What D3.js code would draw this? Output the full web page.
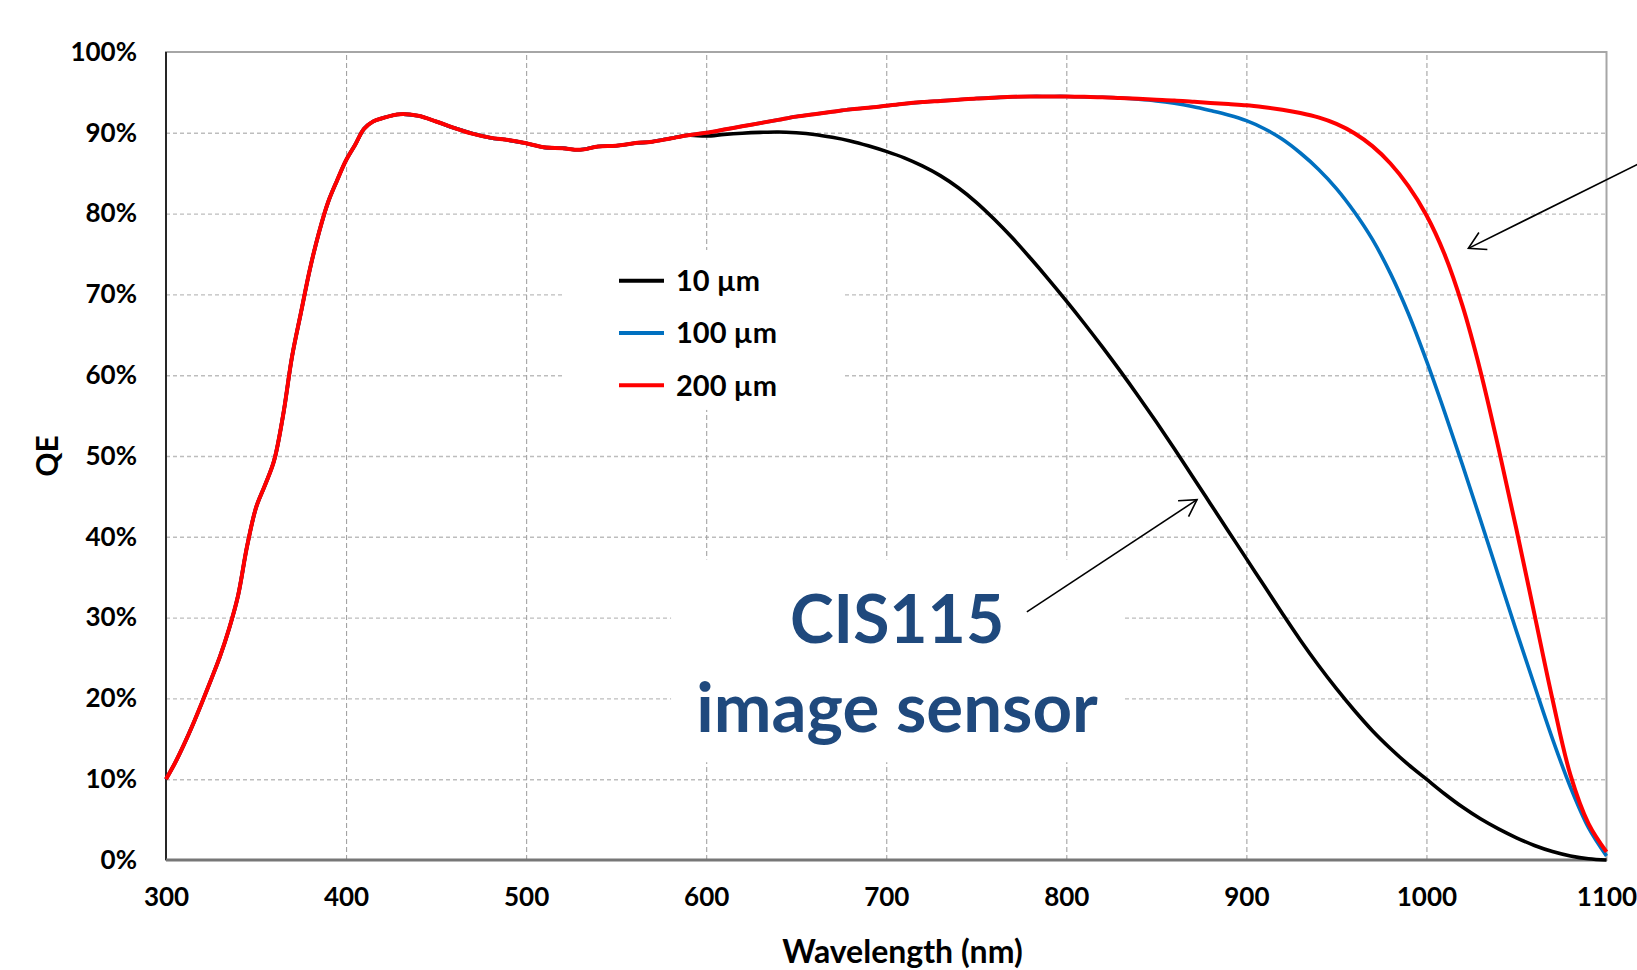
<!DOCTYPE html>
<html>
<head>
<meta charset="utf-8">
<script src="https://cdn.jsdelivr.net/npm/d3@7"></script>
<style>
  body { margin: 0; background: #fff; }
  svg { font-family: Lato, "Open Sans", sans-serif; font-weight: 700; }
  .hgrid line { stroke: #bdbdbd; stroke-width: 1.4; stroke-dasharray: 4,3; }
  .vgrid line { stroke: #a3a3a3; stroke-width: 1.1; stroke-dasharray: 5,3; }
  .axis text { font-family: Lato, sans-serif; font-size: 26px; fill: #000; font-weight: 700; }
  .title { font-size: 30px; fill: #000; font-weight: 700; }
  .legend text { font-size: 29px; fill: #000; font-weight: 700; }
  .note { font-size: 69px; fill: #1F497D; font-weight: 700; }
</style>
</head>
<body>
<svg width="1637" height="970"></svg>
<script>
// wavelengths where all three thicknesses give the same QE
const sharedWavelengths = [300, 305, 310, 315, 320, 325, 330, 335, 340, 345, 350, 355, 360, 365,
  370, 375, 380, 385, 390, 395, 400, 405, 410, 415, 420, 430, 440, 450, 460, 470, 480, 490,
  500, 510, 520, 530, 540, 550, 560, 570, 580, 590];
const qeShared = [10.0, 12.0, 14.3, 16.8, 19.5, 22.3, 25.2, 28.6, 32.7, 38.8, 43.6, 46.4, 49.4, 55.0,
  62.3, 67.8, 73.2, 77.7, 81.4, 84.1, 86.6, 88.5, 90.5, 91.4, 91.8, 92.3, 92.1, 91.4, 90.6, 89.9, 89.4, 89.1,
  88.7, 88.2, 88.1, 87.9, 88.3, 88.4, 88.7, 88.9, 89.3, 89.7];

// red end of the spectrum, where the curves split
const tailWavelengths = [600, 610, 620, 630, 640, 650, 660, 670, 680, 690, 700, 710, 720, 730, 740,
  750, 760, 770, 780, 790, 800, 810, 820, 830, 840, 850, 860, 870, 880, 890, 900, 910, 920, 930,
  940, 950, 960, 970, 980, 990, 1000, 1010, 1020, 1030, 1040, 1050, 1060, 1070, 1080, 1090, 1100];
const qe10Tail = [89.6, 89.8, 89.95, 90.05, 90.1, 90.0, 89.8, 89.45, 89.0, 88.4, 87.7, 86.9, 85.9, 84.7, 83.2,
  81.4, 79.3, 77.0, 74.5, 71.9, 69.2, 66.4, 63.5, 60.5, 57.4, 54.2, 50.9, 47.5, 44.1, 40.7, 37.3, 33.9, 30.5, 27.2,
  24.1, 21.2, 18.5, 16.0, 13.8, 11.8, 10.0, 8.2, 6.55, 5.1, 3.85, 2.75, 1.8, 1.05, 0.5, 0.15, 0.0];
const qe100Tail = [90.0, 90.4, 90.8, 91.2, 91.6, 92.0, 92.3, 92.6, 92.9, 93.1, 93.35, 93.6, 93.8, 93.95, 94.1,
  94.25, 94.35, 94.45, 94.5, 94.5, 94.5, 94.45, 94.4, 94.3, 94.15, 93.95, 93.65, 93.25, 92.75, 92.2, 91.5, 90.5, 89.2, 87.5,
  85.5, 83.1, 80.2, 76.8, 72.6, 67.6, 61.8, 55.5, 48.9, 42.1, 35.2, 28.3, 21.6, 15.0, 9.0, 4.0, 0.5];
const qe200Tail = [90.0, 90.4, 90.8, 91.2, 91.6, 92.0, 92.3, 92.6, 92.9, 93.1, 93.35, 93.6, 93.8, 93.95, 94.1,
  94.25, 94.35, 94.45, 94.5, 94.5, 94.5, 94.45, 94.4, 94.3, 94.2, 94.1, 94.0, 93.85, 93.7, 93.55, 93.4, 93.15, 92.85, 92.45,
  91.9, 91.1, 89.95, 88.35, 86.2, 83.4, 79.8, 75.0, 68.6, 60.5, 51.0, 40.9, 30.4, 19.9, 10.5, 4.5, 1.0];

const seriesNames = ["10 µm", "100 µm", "200 µm"];
const seriesColors = ["#000000", "#0070C0", "#FF0000"];
const xTicks = [300, 400, 500, 600, 700, 800, 900, 1000, 1100];
const yTicks = [0, 10, 20, 30, 40, 50, 60, 70, 80, 90, 100];

const margin = {top: 52, right: 30.5, bottom: 110, left: 166};
const svg = d3.select("svg");
const width = +svg.attr("width") - margin.left - margin.right;
const height = +svg.attr("height") - margin.top - margin.bottom;

const vis = svg.append("g")
  .attr("transform", `translate(${margin.left},${margin.top})`);

const x = d3.scaleLinear().domain([300, 1100]).range([0, width]);
const y = d3.scaleLinear().domain([0, 100]).range([height, 0]);

const wavelengths = sharedWavelengths.concat(tailWavelengths);
const tails = [qe10Tail, qe100Tail, qe200Tail];
const series = seriesNames.map((name, i) => ({
  name,
  color: seriesColors[i],
  points: wavelengths.map((w, j) => ({w, qe: qeShared.concat(tails[i])[j]}))
}));

// grid
vis.append("g").attr("class", "hgrid")
  .call(d3.axisLeft(y).tickValues(yTicks.slice(1, -1)).tickSize(-width).tickFormat(""))
  .call(g => g.select(".domain").remove());
vis.append("g").attr("class", "vgrid")
  .attr("transform", `translate(0,${height})`)
  .call(d3.axisBottom(x).tickValues(xTicks.slice(1, -1)).tickSize(-height).tickFormat(""))
  .call(g => g.select(".domain").remove());

// plot frame
vis.append("rect")
  .attr("width", width).attr("height", height)
  .attr("fill", "none").attr("stroke", "#a6a6a6").attr("stroke-width", 2);
vis.append("line").attr("x1", 0).attr("x2", 0).attr("y1", 0).attr("y2", height)
  .attr("stroke", "#262626").attr("stroke-width", 2);
vis.append("line").attr("x1", 0).attr("x2", width).attr("y1", height).attr("y2", height)
  .attr("stroke", "#777").attr("stroke-width", 3);

// axes labels
vis.append("g").attr("class", "axis")
  .call(d3.axisLeft(y).tickValues(yTicks).tickSize(0).tickPadding(29).tickFormat(d => d + "%"))
  .call(g => g.select(".domain").remove());
vis.append("g").attr("class", "axis")
  .attr("transform", `translate(0,${height})`)
  .call(d3.axisBottom(x).tickValues(xTicks).tickSize(0).tickPadding(28).tickFormat(d3.format("d")))
  .call(g => g.select(".domain").remove());

vis.append("text").attr("class", "title")
  .attr("x", x(709)).attr("y", height + 90)
  .attr("text-anchor", "middle").attr("dominant-baseline", "central")
  .style("font-size", "32px")
  .text("Wavelength (nm)");
vis.append("text").attr("class", "title")
  .attr("transform", `translate(${-120},${y(50)}) rotate(-90)`)
  .attr("text-anchor", "middle").attr("dominant-baseline", "central")
  .text("QE");

// white boxes that hide the grid behind the legend and the label
vis.append("rect").attr("fill", "#fff")
  .attr("x", x(521)).attr("y", y(75.5))
  .attr("width", x(676) - x(521)).attr("height", y(55.7) - y(75.5));
vis.append("rect").attr("fill", "#fff")
  .attr("x", x(580.5)).attr("y", y(37.2))
  .attr("width", x(831) - x(580.5)).attr("height", y(12.1) - y(37.2));

// curves
const line = d3.line()
  .x(d => x(d.w))
  .y(d => y(d.qe))
  .curve(d3.curveCatmullRom.alpha(0.5));

vis.selectAll(".curve")
  .data(series)
  .enter()
  .append("path")
  .attr("class", "curve")
  .attr("fill", "none")
  .attr("stroke", d => d.color)
  .attr("stroke-width", d => d.name === "200 µm" ? 4 : 3.6)
  .attr("stroke-linejoin", "round")
  .attr("d", d => line(d.points));

// legend
const legend = vis.append("g").attr("class", "legend")
  .attr("transform", "translate(453,228.7)");
const item = legend.selectAll("g")
  .data(series)
  .enter()
  .append("g")
  .attr("transform", (d, i) => `translate(0,${i * 52.3})`);
item.append("line")
  .attr("x1", 0).attr("x2", 45)
  .attr("stroke", d => d.color).attr("stroke-width", 4);
item.append("text")
  .attr("x", 57).attr("dy", "0.36em")
  .text(d => d.name);

// label and arrows
vis.append("text").attr("class", "note")
  .attr("x", x(706)).attr("y", y(26.9))
  .attr("text-anchor", "middle")
  .style("font-size", "66px")
  .text("CIS115");
vis.append("text").attr("class", "note")
  .attr("x", x(706)).attr("y", y(15.9))
  .attr("text-anchor", "middle").text("image sensor");

function arrow(w0, q0, w1, q1) {
  const x0 = x(w0), y0 = y(q0), x1 = x(w1), y1 = y(q1);
  const a = Math.atan2(y1 - y0, x1 - x0);
  const len = 19, spread = Math.PI / 6;
  const g = vis.append("g")
    .attr("stroke", "#000").attr("stroke-width", 1.6).attr("fill", "none");
  g.append("line").attr("x1", x0).attr("y1", y0).attr("x2", x1).attr("y2", y1);
  g.append("path").attr("d",
    `M${x1 - len * Math.cos(a - spread)},${y1 - len * Math.sin(a - spread)}` +
    `L${x1},${y1}` +
    `L${x1 - len * Math.cos(a + spread)},${y1 - len * Math.sin(a + spread)}`);
}
arrow(778.1, 30.7, 872.6, 44.6);
arrow(1120, 86.4, 1023.3, 75.7);
</script>
</body>
</html>
